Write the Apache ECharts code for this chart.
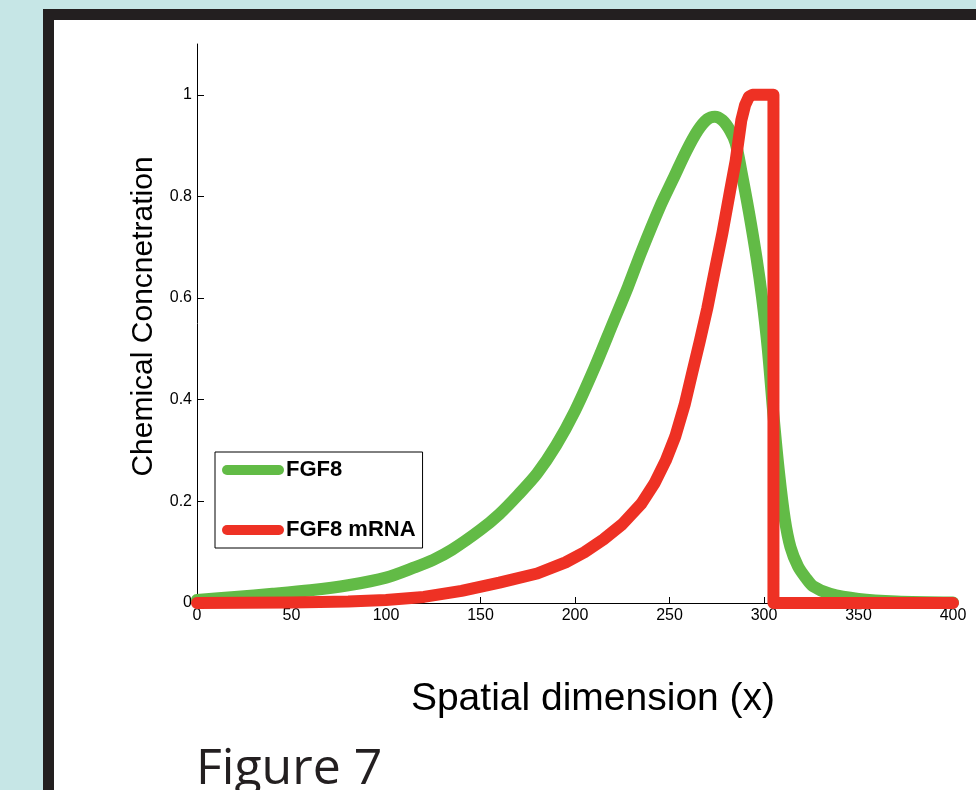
<!DOCTYPE html>
<html>
<head>
<meta charset="utf-8">
<script src="https://cdn.jsdelivr.net/npm/echarts@6/dist/echarts.min.js"></script>
<style>
html,body{margin:0;padding:0;background:#c6e6e6;}
#chart{width:976px;height:790px;}
</style>
</head>
<body>
<div id="chart"></div>
<script>
// ---- data ----
const seriesNames = ['FGF8', 'FGF8 mRNA'];
const fgf8X = [0,20,40,60,80,100,115,125,135,150,160,170,180,190,200,210,220,228,235,245,252,259,265,270,274,278,282,285,288,292,296,299,302,305,308,311,314,318,322,326,335,350,370,400];
const fgf8Y = [0.006,0.012,0.018,0.025,0.035,0.05,0.07,0.085,0.105,0.144,0.175,0.213,0.255,0.31,0.378,0.46,0.55,0.622,0.69,0.78,0.835,0.89,0.93,0.952,0.957,0.95,0.93,0.905,0.85,0.77,0.68,0.6,0.5,0.37,0.255,0.165,0.11,0.072,0.05,0.033,0.018,0.008,0.003,0.001];
const mrnaX = [0,50,80,100,120,140,160,180,195,205,215,225,235,242,248,253,258,262,266,270,274,278,282,285,288,290,292,294,305,305,400];
const mrnaY = [0,0.001,0.003,0.006,0.012,0.024,0.04,0.058,0.08,0.1,0.125,0.155,0.195,0.235,0.28,0.327,0.39,0.453,0.515,0.58,0.655,0.728,0.81,0.87,0.95,0.98,0.996,1,1,0,0];
const yTickValues = [0, 0.2, 0.4, 0.6, 0.8, 1];
const xTickInterval = 50;

const pair = (xs, ys) => xs.map((x, i) => [x, ys[i]]);

const chart = echarts.init(document.getElementById('chart'), null, {renderer: 'canvas'});
const axisFont = 'Liberation Sans, Arial, sans-serif';
const green = '#62bb46';
const red = '#ee3124';

chart.setOption({
  backgroundColor: '#c6e6e6',
  animation: false,
  graphic: [
    {type: 'rect', silent: true, z: -10, shape: {x: 43, y: 9, width: 1000, height: 900}, style: {fill: '#231f20'}},
    {type: 'rect', silent: true, z: -9, shape: {x: 54, y: 20, width: 1000, height: 900}, style: {fill: '#ffffff'}},
    {type: 'text', silent: true, z: 5, x: 196, y: 770,
      style: {text: 'Figure 7', fill: '#231f20', font: '50px "Open Sans", "Noto Sans", sans-serif', verticalAlign: 'middle', align: 'left'}}
  ],
  grid: {left: 197, right: 23, top: 44, bottom: 187, containLabel: false},
  legend: {
    orient: 'vertical',
    left: 215, top: 452,
    padding: [7, 7, 7, 7],
    itemGap: 38,
    itemWidth: 62, itemHeight: 10,
    borderColor: '#000', borderWidth: 1,
    backgroundColor: '#fff',
    icon: 'path://M5,0L57,0A5,5,0,0,1,57,10L5,10A5,5,0,0,1,5,0Z',
    itemStyle: {borderWidth: 0},
    textStyle: {fontFamily: axisFont, fontWeight: 'bold', fontSize: 22, color: '#000', padding: [0, 0, 0, -3]},
    data: seriesNames
  },
  xAxis: {
    type: 'value', min: 0, max: 400, interval: xTickInterval,
    name: 'Spatial dimension (x)', nameLocation: 'middle', nameGap: 77,
    nameTextStyle: {fontFamily: axisFont, fontSize: 39, color: '#000', padding: [0, 0, 0, 36]},
    axisLine: {show: true, onZero: false, lineStyle: {color: '#000', width: 1}},
    axisTick: {show: true, inside: true, length: 6, lineStyle: {color: '#000'}},
    axisLabel: {fontFamily: axisFont, fontSize: 16, color: '#000', margin: 5},
    splitLine: {show: false}
  },
  yAxis: {
    type: 'value', min: 0, max: 1.1,
    name: 'Chemical Concnetration', nameLocation: 'middle', nameGap: 38, nameRotate: 90,
    nameTextStyle: {fontFamily: axisFont, fontSize: 30, color: '#000', padding: [0, 0, 0, 14]},
    axisLine: {show: true, onZero: false, lineStyle: {color: '#000', width: 1}},
    axisTick: {show: true, inside: true, length: 7, customValues: yTickValues, lineStyle: {color: '#000'}},
    axisLabel: {fontFamily: axisFont, fontSize: 16, color: '#000', margin: 5, customValues: yTickValues},
    splitLine: {show: false}
  },
  series: [
    {
      name: seriesNames[0], type: 'line', data: pair(fgf8X, fgf8Y),
      showSymbol: false, symbol: 'none', smooth: 0.3, z: 3,
      itemStyle: {color: green},
      lineStyle: {color: green, width: 12, cap: 'round', join: 'round'}
    },
    {
      name: seriesNames[1], type: 'line', data: pair(mrnaX, mrnaY),
      showSymbol: false, symbol: 'none', smooth: false, z: 4,
      itemStyle: {color: red},
      lineStyle: {color: red, width: 12, cap: 'round', join: 'round'}
    }
  ]
});
</script>
</body>
</html>
